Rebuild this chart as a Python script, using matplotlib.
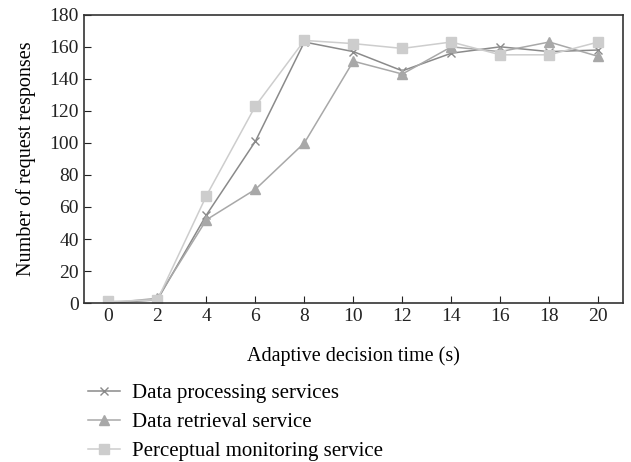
import matplotlib.pyplot as plt
import numpy as np

plt.rcParams['font.family'] = ['Liberation Serif', 'DejaVu Serif']

t = [0, 2, 4, 6, 8, 10, 12, 14, 16, 18, 20]
processing = [0, 2, 55, 101, 163, 157, 145, 156, 160, 157, 158]
retrieval = [0, 3, 52, 71, 100, 151, 143, 160, 157, 163, 154]
perceptual = [1, 2, 67, 123, 164, 162, 159, 163, 155, 155, 163]

fig = plt.figure(figsize=(6.31, 4.62), dpi=100)
ax = fig.add_axes([0.133, 0.344, 0.854, 0.624])

ax.plot(t, processing, color='#8a8a8a', marker='x', markersize=6, lw=1.1,
        label='Data processing services')
ax.plot(t, retrieval, color='#a8a8a8', marker='^', markersize=7, lw=1.1,
        label='Data retrieval service')
ax.plot(t, perceptual, color='#cdcdcd', marker='s', markersize=7, lw=1.1,
        label='Perceptual monitoring service')

ax.set_xlim(-1, 21)
ax.set_ylim(0, 180)
ax.set_xticks(range(0, 21, 2))
ax.set_yticks(range(0, 181, 20))
ax.tick_params(direction='in', labelsize=14, length=5, colors='#222222')
for s in ax.spines.values():
    s.set_color('#333333')
    s.set_linewidth(1.2)

ax.set_xlabel('Adaptive decision time (s)', fontsize=14.5, labelpad=15)
ax.set_ylabel('Number of request responses', fontsize=14.5, labelpad=10)

fig.legend(loc='upper left', bbox_to_anchor=(0.139, 0.17), frameon=False,
           fontsize=15, handlelength=1.55, handletextpad=0.58,
           labelspacing=0.45, borderpad=0, borderaxespad=0)

fig.savefig('out.png', dpi=100)
